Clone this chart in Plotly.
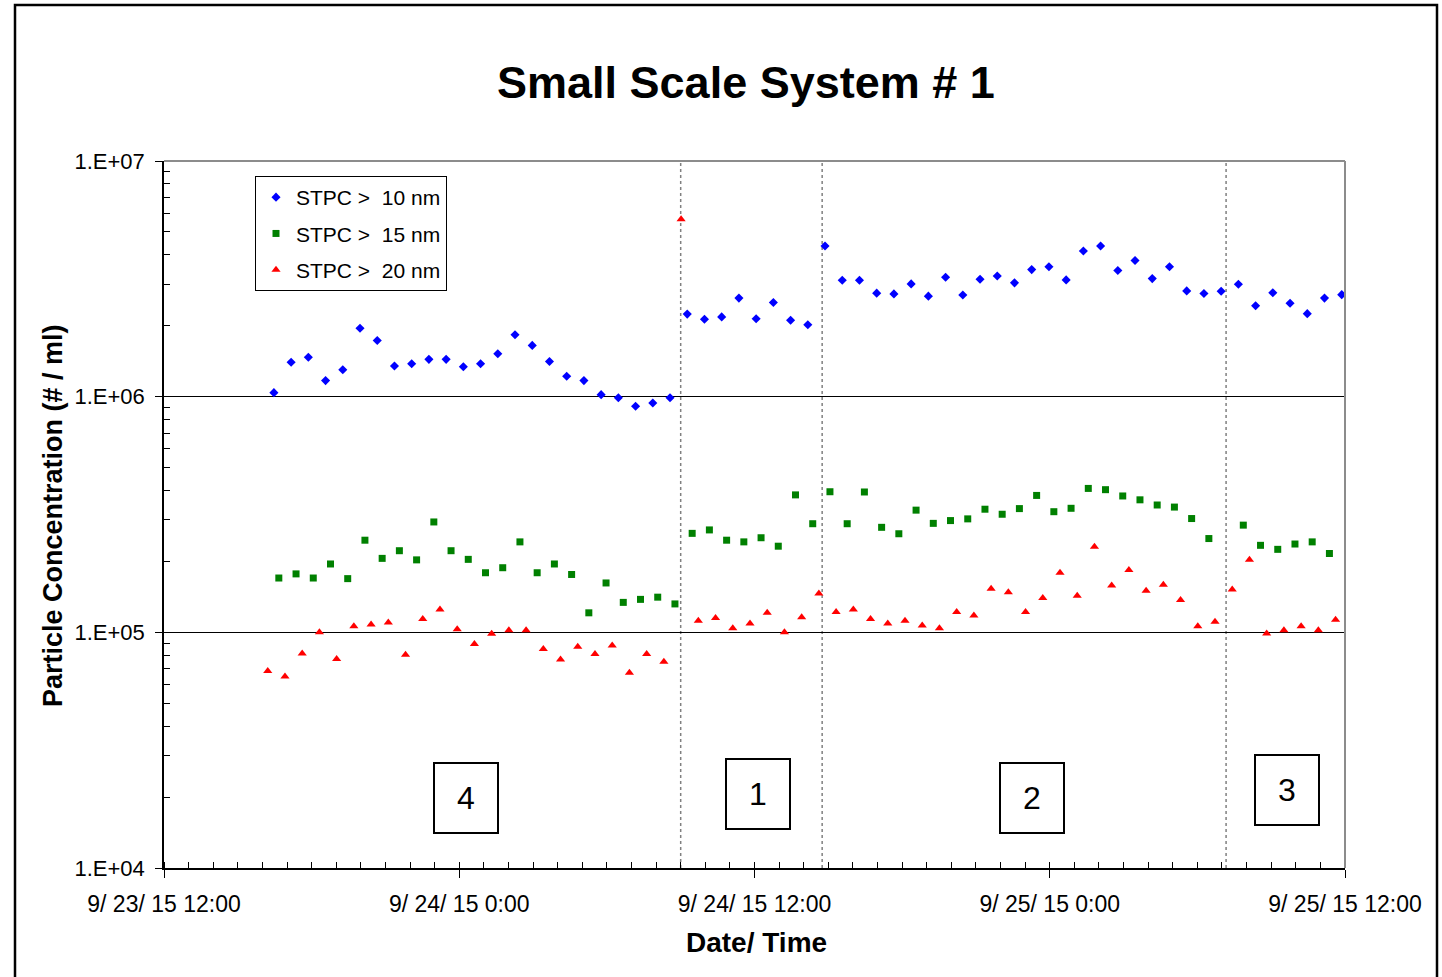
import plotly.graph_objects as go

# ---------------- data ----------------
series_names = ["STPC >  10 nm", "STPC >  15 nm", "STPC >  20 nm"]

time_10nm = [
    "2015-09-23 16:28", "2015-09-23 17:10", "2015-09-23 17:52", "2015-09-23 18:34", "2015-09-23 19:16",
    "2015-09-23 19:58", "2015-09-23 20:40", "2015-09-23 21:22", "2015-09-23 22:04", "2015-09-23 22:46",
    "2015-09-23 23:28",
    "2015-09-24 00:10", "2015-09-24 00:52", "2015-09-24 01:34", "2015-09-24 02:16", "2015-09-24 02:58",
    "2015-09-24 03:40", "2015-09-24 04:22", "2015-09-24 05:04", "2015-09-24 05:46", "2015-09-24 06:28",
    "2015-09-24 07:10", "2015-09-24 07:52", "2015-09-24 08:34", "2015-09-24 09:16", "2015-09-24 09:58",
    "2015-09-24 10:40", "2015-09-24 11:22", "2015-09-24 12:04", "2015-09-24 12:46", "2015-09-24 13:28",
    "2015-09-24 14:10", "2015-09-24 14:52", "2015-09-24 15:34", "2015-09-24 16:16", "2015-09-24 16:58",
    "2015-09-24 17:40", "2015-09-24 18:22", "2015-09-24 19:04", "2015-09-24 19:46", "2015-09-24 20:28",
    "2015-09-24 21:10", "2015-09-24 21:52", "2015-09-24 22:34", "2015-09-24 23:16", "2015-09-24 23:58",
    "2015-09-25 00:40", "2015-09-25 01:22", "2015-09-25 02:04", "2015-09-25 02:46", "2015-09-25 03:28",
    "2015-09-25 04:10", "2015-09-25 04:52", "2015-09-25 05:34", "2015-09-25 06:16", "2015-09-25 06:58",
    "2015-09-25 07:40", "2015-09-25 08:22", "2015-09-25 09:04", "2015-09-25 09:46", "2015-09-25 10:28",
    "2015-09-25 11:10", "2015-09-25 11:52",
]
conc_10nm = [
    1.04e6, 1.40e6, 1.47e6, 1.17e6, 1.30e6, 1.95e6, 1.73e6, 1.35e6, 1.38e6, 1.44e6,
    1.44e6, 1.34e6, 1.38e6, 1.52e6, 1.83e6, 1.65e6, 1.41e6, 1.22e6, 1.17e6, 1.02e6,
    0.99e6, 0.91e6, 0.94e6, 0.99e6,
    2.24e6, 2.13e6, 2.18e6, 2.62e6, 2.14e6, 2.51e6, 2.11e6, 2.02e6,
    4.36e6, 3.12e6, 3.12e6, 2.75e6, 2.73e6, 3.01e6, 2.67e6, 3.21e6, 2.70e6, 3.15e6,
    3.25e6, 3.04e6, 3.46e6, 3.56e6, 3.13e6, 4.15e6, 4.36e6, 3.43e6, 3.78e6, 3.17e6,
    3.56e6, 2.81e6, 2.74e6, 2.80e6,
    3.00e6, 2.43e6, 2.76e6, 2.49e6, 2.25e6, 2.62e6, 2.71e6,
]

time_15nm = [
    "2015-09-23 16:40", "2015-09-23 17:22", "2015-09-23 18:04", "2015-09-23 18:46", "2015-09-23 19:28",
    "2015-09-23 20:10", "2015-09-23 20:52", "2015-09-23 21:34", "2015-09-23 22:16", "2015-09-23 22:58",
    "2015-09-23 23:40",
    "2015-09-24 00:22", "2015-09-24 01:04", "2015-09-24 01:46", "2015-09-24 02:28", "2015-09-24 03:10",
    "2015-09-24 03:52", "2015-09-24 04:34", "2015-09-24 05:16", "2015-09-24 05:58", "2015-09-24 06:40",
    "2015-09-24 07:22", "2015-09-24 08:04", "2015-09-24 08:46", "2015-09-24 09:28", "2015-09-24 10:10",
    "2015-09-24 10:52", "2015-09-24 11:34", "2015-09-24 12:16", "2015-09-24 12:58", "2015-09-24 13:40",
    "2015-09-24 14:22", "2015-09-24 15:04", "2015-09-24 15:46", "2015-09-24 16:28", "2015-09-24 17:10",
    "2015-09-24 17:52", "2015-09-24 18:34", "2015-09-24 19:16", "2015-09-24 19:58", "2015-09-24 20:40",
    "2015-09-24 21:22", "2015-09-24 22:04", "2015-09-24 22:46", "2015-09-24 23:28",
    "2015-09-25 00:10", "2015-09-25 00:52", "2015-09-25 01:34", "2015-09-25 02:16", "2015-09-25 02:58",
    "2015-09-25 03:40", "2015-09-25 04:22", "2015-09-25 05:04", "2015-09-25 05:46", "2015-09-25 06:28",
    "2015-09-25 07:52", "2015-09-25 08:34", "2015-09-25 09:16", "2015-09-25 09:58", "2015-09-25 10:40",
    "2015-09-25 11:22",
]
conc_15nm = [
    1.70e5, 1.77e5, 1.70e5, 1.95e5, 1.69e5, 2.46e5, 2.06e5, 2.22e5, 2.03e5, 2.94e5,
    2.22e5, 2.04e5, 1.79e5, 1.88e5, 2.42e5, 1.79e5, 1.95e5, 1.76e5, 1.21e5, 1.62e5,
    1.34e5, 1.38e5, 1.41e5, 1.32e5,
    2.63e5, 2.72e5, 2.46e5, 2.42e5, 2.52e5, 2.32e5, 3.83e5, 2.89e5,
    3.95e5, 2.89e5, 3.94e5, 2.79e5, 2.62e5, 3.30e5, 2.90e5, 2.98e5, 3.03e5, 3.33e5,
    3.17e5, 3.35e5, 3.81e5, 3.25e5, 3.36e5, 4.08e5, 4.03e5, 3.79e5, 3.65e5, 3.47e5,
    3.40e5, 3.04e5, 2.50e5,
    2.85e5, 2.34e5, 2.25e5, 2.37e5, 2.42e5, 2.16e5,
]

time_20nm = [
    "2015-09-23 16:13", "2015-09-23 16:55", "2015-09-23 17:37", "2015-09-23 18:19", "2015-09-23 19:01",
    "2015-09-23 19:43", "2015-09-23 20:25", "2015-09-23 21:07", "2015-09-23 21:49", "2015-09-23 22:31",
    "2015-09-23 23:13", "2015-09-23 23:55",
    "2015-09-24 00:37", "2015-09-24 01:19", "2015-09-24 02:01", "2015-09-24 02:43", "2015-09-24 03:25",
    "2015-09-24 04:07", "2015-09-24 04:49", "2015-09-24 05:31", "2015-09-24 06:13", "2015-09-24 06:55",
    "2015-09-24 07:37", "2015-09-24 08:19", "2015-09-24 09:01", "2015-09-24 09:43", "2015-09-24 10:25",
    "2015-09-24 11:07", "2015-09-24 11:49", "2015-09-24 12:31", "2015-09-24 13:13", "2015-09-24 13:55",
    "2015-09-24 14:37", "2015-09-24 15:19", "2015-09-24 16:01", "2015-09-24 16:43", "2015-09-24 17:25",
    "2015-09-24 18:07", "2015-09-24 18:49", "2015-09-24 19:31", "2015-09-24 20:13", "2015-09-24 20:55",
    "2015-09-24 21:37", "2015-09-24 22:19", "2015-09-24 23:01", "2015-09-24 23:43",
    "2015-09-25 00:25", "2015-09-25 01:07", "2015-09-25 01:49", "2015-09-25 02:31", "2015-09-25 03:13",
    "2015-09-25 03:55", "2015-09-25 04:37", "2015-09-25 05:19", "2015-09-25 06:01", "2015-09-25 06:43",
    "2015-09-25 07:25", "2015-09-25 08:07", "2015-09-25 08:49", "2015-09-25 09:31", "2015-09-25 10:13",
    "2015-09-25 10:55", "2015-09-25 11:37",
]
conc_20nm = [
    6.85e4, 6.50e4, 8.14e4, 1.00e5, 7.71e4, 1.06e5, 1.08e5, 1.10e5, 8.04e4, 1.14e5,
    1.25e5, 1.03e5, 8.92e4, 9.86e4, 1.02e5, 1.02e5, 8.49e4, 7.66e4, 8.69e4, 8.09e4,
    8.79e4, 6.74e4, 8.09e4, 7.50e4,
    5.66e6,
    1.12e5, 1.15e5, 1.04e5, 1.09e5, 1.21e5, 1.00e5, 1.16e5, 1.46e5,
    1.22e5, 1.25e5, 1.14e5, 1.09e5, 1.12e5, 1.07e5, 1.04e5, 1.22e5, 1.18e5, 1.53e5,
    1.48e5, 1.22e5, 1.40e5, 1.79e5, 1.43e5, 2.31e5, 1.58e5, 1.84e5, 1.50e5, 1.59e5,
    1.37e5, 1.06e5, 1.11e5,
    1.52e5, 2.03e5, 9.88e4, 1.02e5, 1.06e5, 1.02e5, 1.13e5,
]

# section boundaries (dotted lines) and section labels
section_bounds = ["2015-09-24 09:00", "2015-09-24 14:45", "2015-09-25 07:10"]
section_labels = ["4", "1", "2", "3"]

x_tick_vals = ["2015-09-23 12:00", "2015-09-24 00:00", "2015-09-24 12:00",
               "2015-09-25 00:00", "2015-09-25 12:00"]
x_tick_text = ["9/ 23/ 15 12:00", "9/ 24/ 15 0:00", "9/ 24/ 15 12:00",
               "9/ 25/ 15 0:00", "9/ 25/ 15 12:00"]
y_tick_vals = [1e4, 1e5, 1e6, 1e7]
y_tick_text = ["1.E+04", "1.E+05", "1.E+06", "1.E+07"]

title_text = "Small Scale System # 1"
x_title = "Date/ Time"
y_title = "Particle Concentration (# / ml)"

# ---------------- layout geometry ----------------
W, H = 1442, 977
L, R, T, B = 164, 1345, 161, 868


def px2x(px):
    return (px - L) / (R - L)


def px2y(py):
    return (B - py) / (B - T)


REG = "Liberation Sans, Arial, sans-serif"
NARROW = "Liberation Sans Narrow, Arial Narrow, Liberation Sans, Arial, sans-serif"

fig = go.Figure()
fig.add_trace(go.Scatter(
    x=time_10nm, y=conc_10nm, mode="markers", name=series_names[0], legendgroup="a",
    marker=dict(symbol="diamond", size=7, color="#0000FF", line=dict(width=0)),
))
fig.add_trace(go.Scatter(
    x=time_15nm, y=conc_15nm, mode="markers", name=series_names[1], legendgroup="b",
    marker=dict(symbol="square", size=7, color="#008000", line=dict(width=0)),
))
fig.add_trace(go.Scatter(
    x=time_20nm, y=conc_20nm, mode="markers", name=series_names[2], legendgroup="c",
    marker=dict(symbol="triangle-up", size=8, color="#FF0000", line=dict(width=0)),
))

shapes = []
# outer chart border
shapes.append(dict(type="rect", xref="paper", yref="paper",
                   x0=px2x(15), x1=px2x(1437), y0=px2y(1000), y1=px2y(5),
                   line=dict(color="black", width=2.5), fillcolor="rgba(0,0,0,0)", layer="above"))
# plot-area top / right border (gray)
shapes.append(dict(type="line", xref="paper", yref="paper", x0=0, x1=1, y0=1, y1=1,
                   line=dict(color="#8c8c8c", width=2)))
shapes.append(dict(type="line", xref="paper", yref="paper", x0=1, x1=1, y0=0, y1=1,
                   line=dict(color="#8c8c8c", width=2)))
# section dividers
for t in section_bounds:
    shapes.append(dict(type="line", xref="x", yref="paper", x0=t, x1=t, y0=0, y1=1,
                       line=dict(color="#808080", width=1.5, dash="dot"), layer="below"))

annotations = []
annotations.append(dict(text="<b>" + title_text + "</b>", xref="paper", yref="paper",
                        x=px2x(746), y=px2y(82), xanchor="center", yanchor="middle",
                        showarrow=False, font=dict(family=NARROW, size=45, color="black")))
annotations.append(dict(text="<b>" + x_title + "</b>", xref="paper", yref="paper",
                        x=px2x(756), y=px2y(942), xanchor="center", yanchor="middle",
                        showarrow=False, font=dict(family=NARROW, size=28, color="black")))
annotations.append(dict(text="<b>" + y_title + "</b>", xref="paper", yref="paper",
                        x=px2x(53), y=px2y(516), xanchor="center", yanchor="middle",
                        textangle=-90, showarrow=False,
                        font=dict(family=NARROW, size=27, color="black")))

box_centers = [(466, 798), (758, 794), (1032, 798), (1287, 790)]
for lab, (cx, cy) in zip(section_labels, box_centers):
    annotations.append(dict(text=lab, xref="paper", yref="paper",
                            x=px2x(cx), y=px2y(cy), xanchor="center", yanchor="middle",
                            showarrow=False, width=62, height=68,
                            bordercolor="black", borderwidth=2, borderpad=0, bgcolor="white",
                            font=dict(family=REG, size=32, color="black")))

fig.update_layout(
    width=W, height=H,
    margin=dict(l=L, r=W - R, t=T, b=H - B, pad=0),
    paper_bgcolor="white", plot_bgcolor="white",
    showlegend=True,
    legend=dict(x=px2x(255), y=px2y(176), xanchor="left", yanchor="top",
                bordercolor="black", borderwidth=1, bgcolor="white",
                font=dict(family=REG, size=21, color="black"),
                tracegroupgap=6, itemwidth=30),
    shapes=shapes,
    annotations=annotations,
    xaxis=dict(
        type="date",
        range=["2015-09-23 12:00", "2015-09-25 12:00"],
        tickmode="array", tickvals=x_tick_vals, ticktext=x_tick_text,
        ticks="outside", ticklen=8, tickwidth=1, tickcolor="black",
        ticklabelstandoff=7,
        tickfont=dict(family=REG, size=23, color="black"),
        showgrid=False, zeroline=False,
        showline=True, linecolor="black", linewidth=1.5,
        minor=dict(dtick=3600000, ticks="inside", ticklen=6, tickcolor="black",
                   tickwidth=1, showgrid=False),
    ),
    yaxis=dict(
        type="log", range=[4, 7],
        tickmode="array", tickvals=y_tick_vals, ticktext=y_tick_text,
        ticks="outside", ticklen=7, tickwidth=1, tickcolor="black",
        ticklabelstandoff=6,
        tickfont=dict(family=REG, size=22, color="black"),
        showgrid=True, gridcolor="black", gridwidth=1,
        zeroline=False,
        showline=True, linecolor="black", linewidth=1.5,
        minor=dict(dtick="D1", ticks="inside", ticklen=6, tickcolor="black",
                   tickwidth=1, showgrid=False),
    ),
)

fig.write_html("out.html")
